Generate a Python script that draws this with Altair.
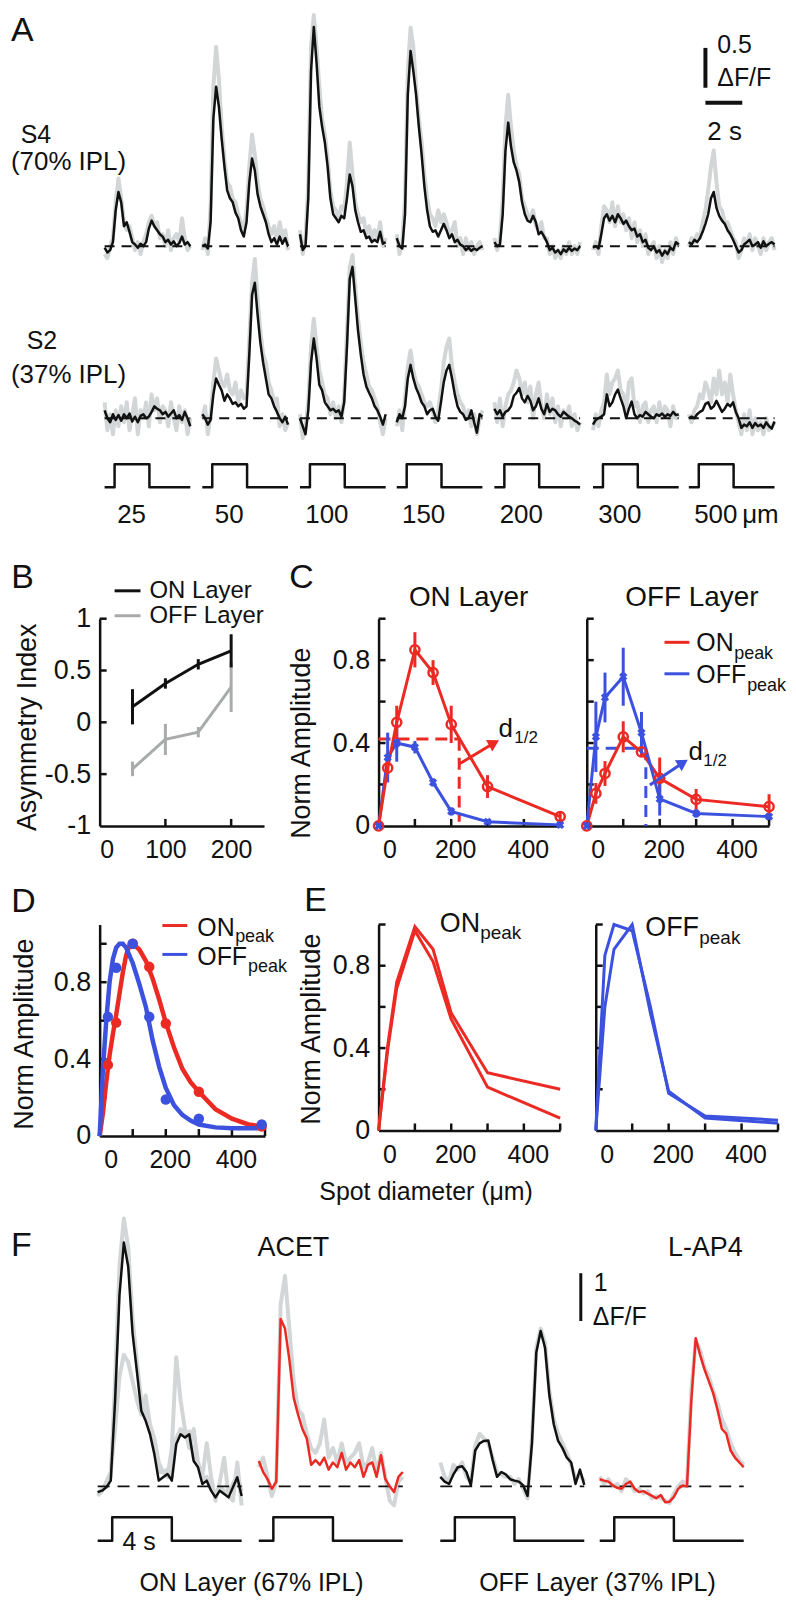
import altair as alt
import pandas as pd

FONT = "Liberation Sans"
BLACK = "#111111"
RED = "#ec2a24"
BLUE = "#3c52df"
TRACE_GREY = "#d3d6d6"
OFF_GREY = "#a9abab"

# ============================ Panel A data (dF/F) ============================
A_SIZE_LABELS = ["25", "50", "100", "150", "200", "300", "500"]
A_DT = 0.15
A_TOP_BLACK = [
    [-0.02,-0.08,-0.05,0.05,0.45,0.68,0.55,0.25,0.3,0.18,0.05,0.02,-0.02,0.03,0.0,0.05,0.22,0.32,0.25,0.2,0.15,0.12,0.05,0.08,0.02,0.06,0.0,0.04,0.12,0.02,0.05,0.0],
    [0.0,0.02,-0.03,0.3,1.6,2.0,1.75,1.35,1.0,0.7,0.6,0.55,0.42,0.35,0.2,0.12,0.3,0.8,1.1,0.95,0.65,0.5,0.4,0.3,0.15,0.05,0.1,0.02,0.12,0.03,0.1,0.0],
    [0.15,-0.05,0.0,0.6,2.2,2.75,2.3,1.75,1.5,1.3,1.0,0.6,0.4,0.35,0.3,0.38,0.35,0.6,0.9,0.75,0.45,0.3,0.18,0.2,0.1,0.12,0.05,0.08,0.05,0.18,0.03,0.05],
    [0.1,0.0,-0.03,0.4,1.9,2.45,2.2,1.9,1.5,1.15,0.75,0.45,0.25,0.18,0.2,0.12,0.2,0.28,0.2,0.1,0.15,0.05,0.08,0.02,0.0,-0.05,-0.02,-0.06,-0.03,-0.05,-0.02,0.0],
    [0.05,0.0,0.02,0.4,1.2,1.55,1.25,1.05,0.95,0.8,0.55,0.4,0.32,0.3,0.38,0.3,0.15,0.18,0.12,0.05,-0.05,-0.02,-0.08,-0.05,-0.1,-0.04,-0.07,-0.02,-0.06,-0.03,-0.05,0.0],
    [-0.02,0.0,-0.03,0.15,0.35,0.4,0.32,0.38,0.3,0.4,0.35,0.28,0.32,0.25,0.2,0.22,0.12,0.15,0.05,0.08,-0.02,-0.05,0.0,-0.08,-0.05,-0.12,-0.06,-0.1,-0.02,-0.05,0.05,0.02],
    [0.05,0.02,0.08,0.05,0.1,0.18,0.28,0.4,0.6,0.68,0.48,0.38,0.32,0.28,0.2,0.15,0.08,0.0,-0.08,-0.05,0.02,0.05,0.08,0.0,0.02,0.05,-0.02,0.06,0.0,0.03,0.05,0.02],
]
A_TOP_GREY = [
    [-0.1,-0.15,0.0,0.1,0.55,0.85,0.6,0.3,0.2,0.25,0.1,-0.05,0.05,-0.1,0.05,0.15,0.3,0.38,0.25,0.3,0.1,0.15,0.0,0.2,-0.05,0.1,0.15,0.05,0.35,0.1,-0.05,0.0],
    [-0.05,0.1,-0.1,0.5,2.0,2.5,2.1,1.5,1.1,0.8,0.75,0.6,0.55,0.4,0.3,0.2,0.45,1.0,1.4,1.15,0.8,0.6,0.5,0.35,0.25,0.15,0.25,0.05,0.3,0.1,0.2,-0.05],
    [0.2,-0.1,0.1,0.8,2.5,2.9,2.5,2.0,1.6,1.4,1.1,0.7,0.5,0.45,0.35,0.5,0.45,0.8,1.3,0.9,0.55,0.4,0.3,0.35,0.15,0.25,0.1,0.2,0.1,0.3,0.0,0.1],
    [0.15,-0.1,0.05,0.6,2.2,2.74,2.5,2.0,1.6,1.3,0.9,0.6,0.4,0.35,0.25,0.45,0.3,0.4,0.3,0.15,0.2,0.3,0.0,0.1,-0.1,0.1,-0.05,0.05,-0.1,0.0,0.05,-0.05],
    [0.1,-0.05,0.1,0.6,1.5,1.9,1.5,1.2,1.0,0.9,0.6,0.5,0.4,0.35,0.45,0.25,0.2,0.3,0.1,0.1,-0.1,0.0,-0.15,-0.05,-0.15,0.0,-0.1,0.05,-0.1,0.0,-0.1,0.05],
    [-0.05,0.05,-0.1,0.25,0.5,0.45,0.3,0.55,0.25,0.5,0.3,0.4,0.2,0.35,0.1,0.3,0.05,0.2,0.0,0.15,-0.1,0.0,0.05,-0.15,0.0,-0.2,-0.05,-0.15,0.05,-0.1,0.1,0.0],
    [0.0,0.1,0.05,0.15,0.1,0.3,0.45,0.7,1.0,1.2,0.8,0.5,0.45,0.3,0.3,0.2,0.1,0.05,-0.15,-0.05,0.1,0.0,0.15,-0.05,0.1,0.0,-0.1,0.1,-0.05,0.05,0.1,-0.05],
]
A_BOT_BLACK = [
    [0.1,0.0,-0.05,0.05,-0.02,0.04,-0.03,0.05,0.0,0.06,-0.04,0.02,-0.05,0.03,0.05,0.0,0.02,0.08,0.15,0.12,0.1,0.05,0.08,0.02,0.06,0.1,0.0,0.04,-0.02,0.08,0.0,-0.1],
    [0.05,0.0,-0.08,-0.02,0.3,0.5,0.42,0.35,0.22,0.3,0.25,0.18,0.2,0.15,0.18,0.12,0.15,0.8,1.55,1.7,1.3,0.95,0.7,0.5,0.3,0.25,0.15,0.08,0.0,-0.05,0.02,-0.08],
    [0.0,-0.1,-0.2,0.1,0.7,1.0,0.75,0.42,0.35,0.2,0.15,0.1,0.12,0.08,0.1,0.02,0.2,0.9,1.75,1.9,1.5,1.1,0.8,0.55,0.4,0.32,0.25,0.15,0.1,0.02,-0.08,0.05],
    [-0.05,0.05,0.0,0.15,0.5,0.67,0.5,0.38,0.3,0.2,0.15,0.05,0.1,0.12,0.02,-0.03,0.2,0.45,0.6,0.67,0.5,0.3,0.15,0.08,0.05,-0.02,0.0,0.1,-0.05,-0.18,0.05,0.02],
    [0.12,0.05,0.1,0.02,0.08,0.1,0.15,0.28,0.32,0.38,0.25,0.2,0.28,0.22,0.1,0.15,0.25,0.12,0.05,0.18,0.08,0.12,0.1,0.05,0.02,0.08,0.05,0.02,0.0,-0.03,-0.05,-0.08],
    [-0.08,-0.02,0.0,0.02,0.05,0.3,0.15,0.2,0.3,0.36,0.25,0.15,0.0,0.12,0.21,0.05,0.0,0.04,0.02,0.08,0.05,0.02,0.0,0.05,0.03,0.06,0.02,0.05,0.03,0.08,0.04,0.05],
    [0.0,0.02,0.0,0.05,0.08,0.1,0.18,0.2,0.12,0.15,0.22,0.15,0.08,0.12,0.18,0.15,0.2,0.08,0.0,-0.12,-0.08,-0.1,-0.05,-0.12,-0.06,-0.1,-0.08,-0.12,-0.05,-0.1,-0.13,-0.04],
]
A_BOT_GREY = [
    [0.2,-0.15,0.05,-0.2,0.1,-0.1,0.15,-0.05,0.2,-0.15,0.05,0.25,-0.2,0.1,0.0,0.2,-0.1,0.3,0.1,0.25,-0.05,0.15,0.1,-0.1,0.2,0.0,-0.15,0.15,-0.05,0.1,-0.2,0.0],
    [0.0,0.15,-0.2,0.05,0.45,0.75,0.6,0.45,0.4,0.55,0.35,0.3,0.45,0.2,0.35,0.25,0.3,1.0,1.7,2.0,1.5,1.1,0.8,0.7,0.45,0.35,0.2,0.25,-0.1,0.05,-0.15,-0.05],
    [0.05,-0.25,-0.1,0.2,0.9,1.25,0.9,0.6,0.45,0.3,0.25,0.05,0.2,0.0,0.15,-0.05,0.3,1.1,1.9,2.05,1.65,1.25,0.95,0.7,0.55,0.4,0.35,0.25,0.15,-0.05,-0.2,0.0],
    [-0.1,0.1,-0.15,0.25,0.65,0.85,0.6,0.45,0.4,0.3,0.2,0.15,0.2,0.1,-0.05,0.1,0.35,0.7,0.9,1.0,0.65,0.45,0.3,0.2,0.15,0.0,0.1,-0.1,0.05,-0.2,0.0,0.1],
    [0.2,-0.05,0.25,-0.1,0.15,0.3,0.35,0.45,0.6,0.5,0.3,0.45,0.2,0.4,0.0,0.3,0.45,0.15,0.0,0.3,0.05,0.25,-0.05,0.15,-0.1,0.1,0.0,0.15,-0.1,0.05,-0.15,-0.05],
    [-0.15,0.05,-0.1,0.1,0.2,0.55,0.3,0.45,0.5,0.6,0.35,0.3,0.1,0.45,0.5,0.15,0.2,-0.05,0.15,0.2,-0.05,0.1,0.15,-0.05,0.2,0.0,0.15,0.1,-0.1,0.15,0.0,0.05],
    [0.05,-0.05,0.1,0.15,0.3,0.25,0.45,0.35,0.2,0.5,0.3,0.6,0.3,0.45,0.2,0.55,0.3,0.1,-0.05,-0.2,0.05,-0.15,0.1,-0.2,0.0,-0.15,-0.05,-0.2,0.0,-0.15,-0.1,-0.05],
]
A_STIM_T = [0.0, 0.54, 0.54, 2.43, 2.43, 4.65]
A_STIM_LEVEL = [0, 0, 1, 1, 0, 0]

# ============================ Panel B data ============================
B_SIZES = [50, 100, 150, 200]
B_ON = [0.15, 0.375, 0.56, 0.69]
B_ON_ERR = [0.17, 0.05, 0.05, 0.16]
B_OFF = [-0.45, -0.165, -0.095, 0.34]
B_OFF_ERR = [0.07, 0.15, 0.05, 0.24]

# ============================ Panel C data ============================
C_SIZES = [0, 25, 50, 100, 150, 200, 300, 500]
C_ONL_ON = [0, 0.28, 0.50, 0.85, 0.74, 0.49, 0.19, 0.045]
C_ONL_ON_ERR = [0, 0.03, 0.08, 0.085, 0.06, 0.09, 0.055, 0.02]
C_ONL_OFF = [0, 0.33, 0.40, 0.38, 0.21, 0.07, 0.02, 0.005]
C_ONL_OFF_ERR = [0, 0.12, 0.09, 0.03, 0.02, 0.02, 0.01, 0.005]
C_OFFL_ON = [0, 0.157, 0.253, 0.43, 0.357, 0.23, 0.128, 0.093]
C_OFFL_ON_ERR = [0, 0.05, 0.06, 0.075, 0.02, 0.1, 0.05, 0.06]
C_OFFL_OFF = [0, 0.43, 0.62, 0.72, 0.45, 0.13, 0.06, 0.045]
C_OFFL_OFF_ERR = [0, 0.17, 0.12, 0.14, 0.1, 0.08, 0.02, 0.015]
C_ONL_HALF = (222, 0.42)
C_OFFL_HALF = (162, 0.375)

# ============================ Panel D data ============================
D_FIT_X = [0, 10, 20, 30, 40, 50, 60, 70, 80, 90, 100, 120, 140, 160, 180, 200, 225, 250, 275, 300, 350, 400, 450, 490]
D_FIT_ON = [0, 0.12, 0.28, 0.42, 0.53, 0.63, 0.74, 0.85, 0.94, 0.99, 1.0, 0.97, 0.91, 0.82, 0.71, 0.59, 0.46, 0.35, 0.28, 0.23, 0.14, 0.09, 0.06, 0.05]
D_FIT_OFF = [0, 0.35, 0.6, 0.8, 0.92, 0.98, 1.0, 1.0, 0.98, 0.94, 0.9, 0.79, 0.67, 0.5, 0.36, 0.25, 0.16, 0.11, 0.08, 0.06, 0.045, 0.04, 0.04, 0.04]
D_DOT_X = [25, 50, 100, 150, 200, 300, 490]
D_DOT_ON = [0.37, 0.59, 1.0, 0.88, 0.585, 0.23, 0.05]
D_DOT_OFF = [0.62, 0.875, 1.0, 0.62, 0.19, 0.09, 0.06]

# ============================ Panel E data ============================
E_SIZES = [0, 25, 50, 100, 150, 200, 300, 500]
E_ON_A = [0, 0.41, 0.72, 0.99, 0.88, 0.57, 0.28, 0.2]
E_ON_B = [0, 0.39, 0.69, 0.97, 0.82, 0.54, 0.21, 0.06]
E_OFF_A = [0, 0.85, 1.0, 0.97, 0.6, 0.18, 0.07, 0.05]
E_OFF_B = [0, 0.6, 0.88, 1.0, 0.57, 0.19, 0.06, 0.035]

# ============================ Panel F data (dF/F) ============================
F_DT = 0.3
F_MAIN = [
    [-0.12,-0.09,-0.02,0.12,1.8,4.0,5.1,4.6,3.2,2.4,1.58,1.37,1.09,0.67,0.12,0.19,0.26,0.12,0.88,1.09,1.02,1.09,0.53,0.4,0.05,0.12,-0.09,-0.23,-0.09,-0.16,-0.23,-0.02,0.19,-0.2],
    [0.53,0.3,0.15,-0.05,0.1,3.5,3.3,2.65,1.85,1.5,1.2,1.0,0.45,0.55,0.45,0.6,0.35,0.5,0.4,0.7,0.35,0.5,0.4,0.55,0.2,0.45,0.5,0.2,0.65,0.15,0.0,-0.12,0.2,0.3],
    [0.2,0.1,0.05,0.25,0.4,0.42,0.3,0.02,0.75,0.9,0.95,0.96,0.55,0.2,0.3,0.25,0.15,0.12,0.1,0.02,-0.2,0.9,2.8,3.25,2.9,1.9,1.3,0.95,0.8,0.6,0.5,0.05,0.35,0.03],
    [0.15,0.12,0.1,0.02,-0.03,-0.05,0.05,0.1,-0.05,-0.12,-0.1,-0.15,-0.2,-0.25,-0.18,-0.33,-0.32,-0.22,-0.05,0.02,0.0,1.8,3.1,2.75,2.45,2.2,1.95,1.6,1.2,1.1,0.75,0.6,0.5,0.4],
]
F_MAIN_COLORS = [BLACK, RED, BLACK, RED]
F_GREY = [
    (0, [-0.15,-0.05,0.0,0.2,2.2,4.6,5.6,5.0,3.5,2.6,1.8,1.5,1.2,0.8,0.3,0.3,0.35,0.2,1.0,1.2,1.1,1.15,0.6,0.5,0.15,0.2,-0.05,-0.15,0.0,-0.1,-0.15,0.05,0.25,-0.1]),
    (0, [-0.2,-0.1,0.1,0.3,1.2,2.3,2.75,2.6,2.2,1.8,1.5,1.9,1.3,1.0,0.5,0.3,0.2,0.8,2.7,1.8,1.2,0.8,1.2,0.5,0.2,0.9,0.2,-0.3,0.1,0.6,-0.2,-0.3,0.5,-0.4]),
    (1, [0.4,0.6,0.2,-0.2,0.1,3.8,4.4,3.3,2.2,1.6,1.5,1.1,0.8,0.7,0.9,1.4,0.6,0.8,0.5,0.9,0.5,0.6,0.7,0.9,0.4,0.5,0.8,0.3,0.7,0.2,-0.3,-0.4,0.1,0.2]),
    (2, [0.5,0.2,0.1,0.45,0.35,0.5,0.2,0.1,0.85,1.1,1.0,0.9,0.6,0.3,0.25,0.2,0.2,0.05,0.15,-0.05,-0.25,1.0,2.9,3.3,3.0,2.0,1.4,1.1,0.9,0.7,0.45,0.15,0.25,0.1]),
    (3, [0.2,0.05,0.15,0.0,0.05,-0.1,0.15,0.05,-0.1,-0.05,-0.15,-0.1,-0.25,-0.2,-0.25,-0.3,-0.35,-0.15,0.0,0.1,0.05,2.0,3.05,2.85,2.5,2.3,2.0,1.75,1.4,1.2,0.9,0.7,0.55,0.45]),
]
F_STIM_T = [0.0, 1.0, 1.0, 5.1, 5.1, 9.9]
F_STIM_LEVEL = [0, 0, 1, 1, 0, 0]

# ============================ helpers ============================
ONE = pd.DataFrame({"k": [0]})


def txt(s, x, y, size=25, align="left", baseline="alphabetic", angle=None, color=BLACK):
    kw = dict(text=s, align=align, baseline=baseline, fontSize=size, font=FONT, color=color)
    if angle is not None:
        kw["angle"] = angle
    return alt.Chart(ONE).mark_text(**kw).encode(x=alt.value(x), y=alt.value(y))


def seg_px(x1, x2, y, color, width=3):
    return alt.Chart(ONE).mark_rule(color=color, strokeWidth=width).encode(
        x=alt.value(x1), x2=alt.value(x2), y=alt.value(y))


def spacer(w, h):
    return alt.Chart(ONE).mark_point(opacity=0).encode(
        x=alt.value(0), y=alt.value(0)).properties(width=w, height=h)


LABEL_EXPR = "replace(format(datum.value, '~g'), '\u2212', '-')"


class Panel:
    def __init__(self, xdom, ydom, h, xvals, yvals, ylabels=True, xoff=0):
        self.h = h
        self.xs = alt.Scale(domain=xdom, nice=False, zero=False)
        self.ys = alt.Scale(domain=ydom, nice=False, zero=False)
        self.xa = alt.Axis(values=xvals, title=None, ticks=False, grid=False, domainColor=BLACK,
                           domainWidth=2.5, labelFont=FONT, labelFontSize=25, labelColor=BLACK,
                           labelPadding=12, labelOffset=xoff, labelOverlap=False, labelExpr=LABEL_EXPR)
        self.ya = alt.Axis(values=yvals, title=None, ticks=False, grid=False, domainColor=BLACK,
                           domainWidth=2.5, labels=ylabels, labelFont=FONT, labelFontSize=27,
                           labelColor=BLACK, labelPadding=9, labelOverlap=False, labelExpr=LABEL_EXPR)
        self.xdom, self.ydom = xdom, ydom

    def X(self, f="x"):
        return alt.X(f"{f}:Q", scale=self.xs, axis=self.xa)

    def Y(self, f="y"):
        return alt.Y(f"{f}:Q", scale=self.ys, axis=self.ya)

    def base(self, xticks, yticks):
        fr = alt.Chart(pd.DataFrame({"x": [self.xdom[0]], "y": [self.ydom[0]]})).mark_point(
            opacity=0).encode(x=self.X(), y=self.Y())
        xt = alt.Chart(pd.DataFrame({"x": xticks})).mark_rule(color=BLACK, strokeWidth=2.5).encode(
            x=self.X(), y=alt.value(self.h), y2=alt.value(self.h - 7))
        yt = alt.Chart(pd.DataFrame({"y": yticks})).mark_rule(color=BLACK, strokeWidth=2.5).encode(
            y=self.Y(), x=alt.value(0), x2=alt.value(7))
        return [fr, xt, yt]

    def line(self, xv, yv, color, width=3):
        df = pd.DataFrame({"x": xv, "y": yv, "i": list(range(len(xv)))})
        return alt.Chart(df).mark_line(color=color, strokeWidth=width).encode(
            x=self.X(), y=self.Y(), order="i:Q")

    def errbars(self, xv, yv, ev, color, width=3):
        df = pd.DataFrame({"x": xv, "y": [v - e for v, e in zip(yv, ev)],
                           "hi": [v + e for v, e in zip(yv, ev)]})
        return alt.Chart(df).mark_rule(color=color, strokeWidth=width).encode(
            x=self.X(), y=self.Y(), y2="hi:Q")

    def points(self, xv, yv, color, shape="circle", filled=True, size=80, angle=None, sw=2.5):
        kw = dict(shape=shape, filled=filled, size=size, color=color, strokeWidth=sw, opacity=1)
        if angle is not None:
            kw["angle"] = angle
        df = pd.DataFrame({"x": xv, "y": yv})
        return alt.Chart(df).mark_point(**kw).encode(x=self.X(), y=self.Y())

    def rule(self, x1, y1, x2, y2, color, width=3, dash=None):
        kw = dict(color=color, strokeWidth=width)
        if dash:
            kw["strokeDash"] = dash
        df = pd.DataFrame({"x": [x1], "y": [y1], "x2": [x2], "y2": [y2]})
        return alt.Chart(df).mark_rule(**kw).encode(x=self.X(), y=self.Y(), x2="x2:Q", y2="y2:Q")

    def arrow(self, x1, y1, x2, y2, ang, color):
        head = self.points([x2], [y2], color, shape="triangle-up", size=170, angle=ang, sw=0)
        return [self.rule(x1, y1, x2, y2, color, 3), head]


# ============================ Panel A ============================
A_W, A_H = 780, 610
A_SEG_START = [0.0, 5.3, 10.6, 15.85, 21.15, 26.5, 31.7]   # s, horizontal placement of the 7 sweeps
A_TOP0, A_BOT0 = 0.0, -2.16
A_STIM_LOW, A_STIM_HIGH = -3.025, -2.7375
axs = alt.Scale(domain=[-5.0811, 37.0811], nice=False, zero=False)
ays = alt.Scale(domain=[-4.675, 2.95], nice=False, zero=False)


def trace_df(lists, base, tag, dt, starts):
    rows = []
    for k, vals in enumerate(lists):
        for i, v in enumerate(vals):
            rows.append({"x": starts[k] + i * dt, "y": base + v, "key": f"{tag}{k}", "i": i})
    return pd.DataFrame(rows)


def trace_layer(df, color, width, xs, ys):
    return alt.Chart(df).mark_line(color=color, strokeWidth=width, strokeJoin="round").encode(
        x=alt.X("x:Q", scale=xs, axis=None), y=alt.Y("y:Q", scale=ys, axis=None),
        detail="key:N", order="i:Q")


def free_rule(xs, ys, x1, y1, x2, y2, color, width):
    df = pd.DataFrame({"x": [x1], "y": [y1], "x2": [x2], "y2": [y2]})
    return alt.Chart(df).mark_rule(color=color, strokeWidth=width).encode(
        x=alt.X("x:Q", scale=xs, axis=None), y=alt.Y("y:Q", scale=ys, axis=None),
        x2="x2:Q", y2="y2:Q")


a_grey = pd.concat([trace_df(A_TOP_GREY, A_TOP0, "tg", A_DT, A_SEG_START),
                    trace_df(A_BOT_GREY, A_BOT0, "bg", A_DT, A_SEG_START)])
a_black = pd.concat([trace_df(A_TOP_BLACK, A_TOP0, "tb", A_DT, A_SEG_START),
                     trace_df(A_BOT_BLACK, A_BOT0, "bb", A_DT, A_SEG_START)])
a_span = A_DT * (len(A_TOP_BLACK[0]) - 1)
a_base = pd.DataFrame([{"x": s, "x2": s + a_span, "y": b} for s in A_SEG_START for b in (A_TOP0, A_BOT0)])
a_stim = pd.DataFrame([{"x": s + t, "y": A_STIM_LOW + lv * (A_STIM_HIGH - A_STIM_LOW), "key": f"s{k}", "i": i}
                       for k, s in enumerate(A_SEG_START)
                       for i, (t, lv) in enumerate(zip(A_STIM_T, A_STIM_LEVEL))])
a_lab = pd.DataFrame({"x": [s + 1.46 for s in A_SEG_START], "label": A_SIZE_LABELS})

A_layers = [
    trace_layer(a_grey, TRACE_GREY, 4, axs, ays),
    alt.Chart(a_base).mark_rule(color=BLACK, strokeWidth=2, strokeDash=[10, 7]).encode(
        x=alt.X("x:Q", scale=axs, axis=None), x2="x2:Q", y=alt.Y("y:Q", scale=ays, axis=None)),
    trace_layer(a_black, BLACK, 2.5, axs, ays),
    trace_layer(a_stim, BLACK, 2.5, axs, ays),
    alt.Chart(a_lab).mark_text(font=FONT, fontSize=26, align="center", baseline="alphabetic",
                               color=BLACK).encode(
        x=alt.X("x:Q", scale=axs, axis=None), y=alt.value(514), text="label:N"),
    free_rule(axs, ays, 32.6, 1.9875, 32.6, 2.4875, BLACK, 4),
    free_rule(axs, ays, 32.6, 1.8, 34.6, 1.8, BLACK, 4),
    txt("A", 0, 30, 34),
    txt("S4", 25, 132, 25, align="center"),
    txt("(70% IPL)", 0, 160, 26),
    txt("S2", 31, 339, 25, align="center"),
    txt("(37% IPL)", 0, 373, 26),
    txt("0.5", 709, 42, 25),
    txt("\u0394F/F", 709, 75, 25),
    txt("2 s", 699, 129, 26),
    txt("\u03bcm", 734, 514, 26),
]
chartA = alt.layer(*A_layers).properties(width=A_W, height=A_H)

# ============================ Panel B ============================
B_W, B_H = 165, 208
PB = Panel([0, 250], [-1, 1], B_H, [0, 100, 200], [-1, -0.5, 0, 0.5, 1])
B_layers = PB.base([100, 200], [-0.5, 0, 0.5, 1]) + [
    PB.errbars(B_SIZES, B_OFF, B_OFF_ERR, OFF_GREY),
    PB.line(B_SIZES, B_OFF, OFF_GREY),
    PB.errbars(B_SIZES, B_ON, B_ON_ERR, BLACK),
    PB.line(B_SIZES, B_ON, BLACK),
    txt("B", -88.7, -31, 34),
    seg_px(15, 41, -28, BLACK),
    txt("ON Layer", 50, -28, 24, baseline="middle"),
    seg_px(15, 41, -3, OFF_GREY),
    txt("OFF Layer", 50, -3, 24, baseline="middle"),
    txt("Asymmetry Index", -71.7, 109, 27, align="center", baseline="middle", angle=270),
]
chartB = alt.layer(*B_layers).properties(width=B_W, height=B_H)

# ============================ Panel C ============================
C_H = 208
TICKS_X = [100, 200, 300, 400, 500]
TICKS_Y = [0.2, 0.4, 0.6, 0.8, 1.0]
PC1 = Panel([0, 500], [0, 1], C_H, [0, 200, 400], [0, 0.4, 0.8], xoff=4)
C1 = PC1.base(TICKS_X, TICKS_Y) + [
    PC1.rule(0, C_ONL_HALF[1], C_ONL_HALF[0], C_ONL_HALF[1], RED, 3, [12, 7]),
    PC1.rule(C_ONL_HALF[0], C_ONL_HALF[1], C_ONL_HALF[0], 0.02, RED, 3, [12, 7]),
    PC1.errbars(C_SIZES, C_ONL_OFF, C_ONL_OFF_ERR, BLUE),
    PC1.line(C_SIZES, C_ONL_OFF, BLUE),
    PC1.errbars(C_SIZES, C_ONL_ON, C_ONL_ON_ERR, RED),
    PC1.line(C_SIZES, C_ONL_ON, RED),
    PC1.points(C_SIZES, C_ONL_ON, RED, "circle", False, 85),
    PC1.points(C_SIZES, C_ONL_OFF, BLUE, "cross", True, 70, 45, 0),
] + PC1.arrow(223, 0.30, 318, 0.40, 61, RED) + [
    txt("C", -89.7, -31, 34),
    txt("ON Layer", 90.3, -13, 28, align="center"),
    txt("Norm Amplitude", -76.7, 125, 27, align="center", baseline="middle", angle=270),
    txt("d", 120.3, 119, 26),
    txt("1/2", 136.3, 125, 17),
]
chartC1 = alt.layer(*C1).properties(width=182.3, height=C_H)

PC2 = Panel([0, 500], [0, 1], C_H, [0, 200, 400], [0, 0.4, 0.8], ylabels=False, xoff=4)
C2 = PC2.base(TICKS_X, TICKS_Y) + [
    PC2.rule(0, C_OFFL_HALF[1], C_OFFL_HALF[0], C_OFFL_HALF[1], BLUE, 3, [12, 7]),
    PC2.rule(C_OFFL_HALF[0], C_OFFL_HALF[1], C_OFFL_HALF[0], 0.0, BLUE, 3, [12, 7]),
    PC2.errbars(C_SIZES, C_OFFL_ON, C_OFFL_ON_ERR, RED),
    PC2.line(C_SIZES, C_OFFL_ON, RED),
    PC2.errbars(C_SIZES, C_OFFL_OFF, C_OFFL_OFF_ERR, BLUE),
    PC2.line(C_SIZES, C_OFFL_OFF, BLUE),
    PC2.points(C_SIZES, C_OFFL_ON, RED, "circle", False, 85),
    PC2.points(C_SIZES, C_OFFL_OFF, BLUE, "cross", True, 70, 45, 0),
] + PC2.arrow(173, 0.197, 264, 0.305, 58, BLUE) + [
    txt("OFF Layer", 105.5, -13, 28, align="center"),
    seg_px(78, 103, 23.7, RED),
    txt("ON", 110, 32, 25),
    txt("peak", 148, 40, 18),
    seg_px(78, 103, 55.3, BLUE),
    txt("OFF", 110, 65, 25),
    txt("peak", 161, 73, 18),
    txt("d", 102, 142, 26),
    txt("1/2", 117, 148, 17),
]
chartC2 = alt.layer(*C2).properties(width=183, height=C_H)

# ============================ Panel D ============================
D_H = 212.3
PD = Panel([0, 500], [0, 1.1], D_H, [0, 200, 400], [0, 0.4, 0.8], xoff=4)
D_layers = PD.base(TICKS_X, TICKS_Y) + [
    PD.line(D_FIT_X, D_FIT_ON, RED, 4.5),
    PD.line(D_FIT_X, D_FIT_OFF, BLUE, 4.5),
    PD.points(D_DOT_X, D_DOT_ON, RED, "circle", True, 110, None, 0),
    PD.points(D_DOT_X, D_DOT_OFF, BLUE, "circle", True, 110, None, 0),
    txt("D", -88.7, -13, 34),
    txt("Norm Amplitude", -74.7, 110, 27, align="center", baseline="middle", angle=270),
    seg_px(63, 88, 1, RED),
    txt("ON", 98, 12, 25),
    txt("peak", 136, 18, 18),
    seg_px(63, 88, 30, BLUE),
    txt("OFF", 98, 41, 25),
    txt("peak", 149, 48, 18),
]
chartD = alt.layer(*D_layers).properties(width=166, height=D_H)

# ============================ Panel E ============================
E_H = 206.7
PE1 = Panel([0, 500], [0, 1], E_H, [0, 200, 400], [0, 0.4, 0.8], xoff=4)
E1 = PE1.base(TICKS_X, TICKS_Y) + [
    PE1.line(E_SIZES, E_ON_A, RED, 3),
    PE1.line(E_SIZES, E_ON_B, RED, 3),
    txt("E", -74.5, -14, 34),
    txt("Norm Amplitude", -66.5, 105, 27, align="center", baseline="middle", angle=270),
    txt("ON", 61.5, 7, 27),
    txt("peak", 102, 15, 19),
    txt("Spot diameter (\u03bcm)", -59.5, 277, 25),
]
chartE1 = alt.layer(*E1).properties(width=182.3, height=E_H)

PE2 = Panel([0, 500], [0, 1], E_H, [0, 200, 400], [0, 0.4, 0.8], ylabels=False, xoff=4)
E2 = PE2.base(TICKS_X, TICKS_Y) + [
    PE2.line(E_SIZES, E_OFF_A, BLUE, 3),
    PE2.line(E_SIZES, E_OFF_B, BLUE, 3),
    txt("OFF", 49.7, 12, 27),
    txt("peak", 104, 20, 19),
]
chartE2 = alt.layer(*E2).properties(width=183, height=E_H)

# ============================ Panel F ============================
F_W, F_H = 780, 380
F_SEG_START = [0.0, 11.08, 23.56, 34.52]   # s, horizontal placement of the 4 sweeps
F_STIM_LOW, F_STIM_HIGH = -1.135, -0.646
fxs = alt.Scale(domain=[-5.959, 47.466], nice=False, zero=False)
fys = alt.Scale(domain=[-2.2083, 5.7083], nice=False, zero=False)

f_grey = pd.DataFrame([{"x": F_SEG_START[k] + i * F_DT, "y": v, "key": f"g{j}", "i": i}
                       for j, (k, vals) in enumerate(F_GREY) for i, v in enumerate(vals)])
f_span = F_DT * (len(F_MAIN[0]) - 1)
f_base = pd.DataFrame([{"x": s, "x2": s + f_span, "y": 0.0} for s in F_SEG_START])
f_stim = pd.DataFrame([{"x": s + t, "y": F_STIM_LOW + lv * (F_STIM_HIGH - F_STIM_LOW), "key": f"s{k}", "i": i}
                       for k, s in enumerate(F_SEG_START)
                       for i, (t, lv) in enumerate(zip(F_STIM_T, F_STIM_LEVEL))])
F_layers = [
    trace_layer(f_grey, TRACE_GREY, 4, fxs, fys),
    alt.Chart(f_base).mark_rule(color=BLACK, strokeWidth=2, strokeDash=[12, 8]).encode(
        x=alt.X("x:Q", scale=fxs, axis=None), x2="x2:Q", y=alt.Y("y:Q", scale=fys, axis=None)),
]
for k, vals in enumerate(F_MAIN):
    df = pd.DataFrame({"x": [F_SEG_START[k] + i * F_DT for i in range(len(vals))], "y": vals,
                       "key": [f"m{k}"] * len(vals), "i": list(range(len(vals)))})
    F_layers.append(trace_layer(df, F_MAIN_COLORS[k], 2.5, fxs, fys))
F_layers += [
    trace_layer(f_stim, BLACK, 2.5, fxs, fys),
    free_rule(fxs, fys, 33.22, 3.458, 33.22, 4.458, BLACK, 3),
    txt("F", 0, 43, 34),
    txt("ACET", 283.5, 43, 27, align="center"),
    txt("L-AP4", 697, 43, 27, align="center"),
    txt("1", 585, 78, 25),
    txt("\u0394F/F", 584, 112, 25),
    txt("4 s", 112, 338, 25),
    txt("ON Layer (67% IPL)", 129, 379, 25),
    txt("OFF Layer (37% IPL)", 470, 379, 25),
]
chartF = alt.layer(*F_layers).properties(width=F_W, height=F_H)

# ============================ layout ============================
# Nested rows take no height in a flush vconcat, so the spacer after each row
# carries the row height plus the gap below it.
rowBC = alt.hconcat(spacer(88.7, B_H), chartB, spacer(115, B_H), chartC1, spacer(26, B_H), chartC2,
                    spacing=0, bounds="flush")
rowDE = alt.hconcat(spacer(88.7, D_H), chartD, spacer(113.8, D_H), chartE1, spacer(34.5, D_H), chartE2,
                    spacing=0, bounds="flush")

chart = alt.vconcat(chartA, rowBC, spacer(1, B_H + 99), rowDE, spacer(1, D_H + 77.7), chartF,
                    spacing=0, bounds="flush", padding=0).configure_view(stroke=None)

chart.save("out.html", embed_options={"renderer": "svg", "actions": False})
